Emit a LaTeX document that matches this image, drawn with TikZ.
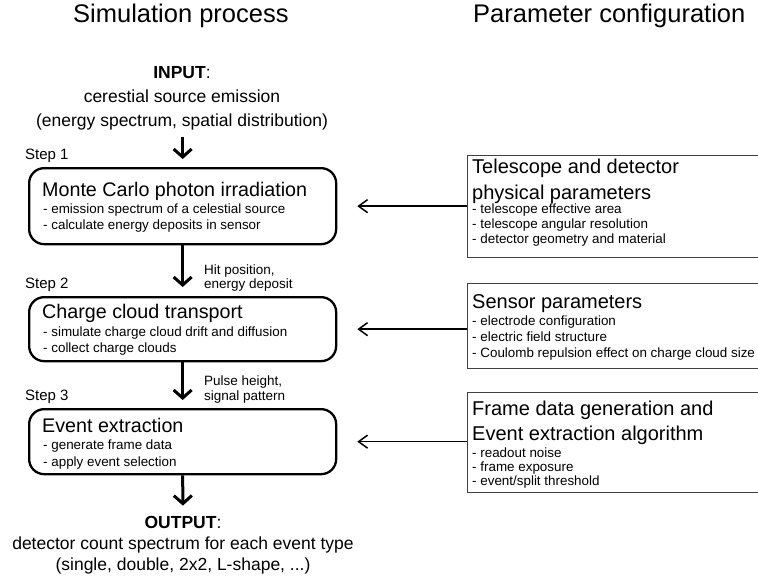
\documentclass[tikz,border=0pt]{standalone}
\usepackage{fontspec}
\setmainfont{Liberation Sans}
\usetikzlibrary{arrows.meta,positioning}

\newcommand{\fsz}[2]{\fontsize{#1}{#2}\selectfont}

\begin{document}
\begin{tikzpicture}[x=1pt, y=-1pt,
  stage/.style = {draw, line width=2.3pt, rounded corners=15pt,
    minimum width=307pt, inner sep=0pt, anchor=north west},
  param/.style = {draw=black!75, line width=1.4pt,
    minimum width=330pt, inner sep=0pt, anchor=north west},
  flow/.style = {line width=3pt, -{Straight Barb[length=8pt, width=18pt]}},
  feed/.style = {line width=1.5pt, -{Straight Barb[length=9pt, width=13pt]}},
  txt/.style = {anchor=base west, inner sep=0pt, align=left},
  head/.style = {txt, font=\fsz{19.7}{24}},
  list/.style = {txt, font=\fsz{13.4}{16}},
  steplabel/.style = {txt, font=\fsz{15}{18}}
  ]
  \useasboundingbox (0,0) rectangle (758,579);
  \clip (0,0) rectangle (758,579);

  % column titles
  \node[txt, font=\fsz{25.5}{28}] (simtitle) at (73,22) {Simulation process};
  \node[txt, font=\fsz{25.5}{28}] (partitle) at (473,22) {Parameter configuration};

  % simulation stages (multi-line nodes sit on their last baseline)
  \node[align=center, anchor=base, inner sep=0pt, font=\fsz{17.5}{24}] (input) at (182,126)
  {\textbf{INPUT}:\\cerestial source emission\\(energy spectrum, spatial distribution)};

  \node[stage, minimum height=76pt] (mc) at (28,167) {};
  \node[stage, minimum height=64pt] (ct) at (28,296) {};
  \node[stage, minimum height=65pt] (ee) at (28,408) {};

  \node[steplabel] (st1) at (25,159) {Step 1};
  \node[steplabel] (st2) at (25,288) {Step 2};
  \node[steplabel] (st3) at (25,400) {Step 3};

  \node[head] (mc-head) at (42,196) {Monte Carlo photon irradiation};
  \node[list] (mc-list) at (43,229) {- emission spectrum of a celestial source\\- calculate energy deposits in sensor};
  \node[head] (ct-head) at (42,318) {Charge cloud transport};
  \node[list] (ct-list) at (43,352) {- simulate charge cloud drift and diffusion\\- collect charge clouds};
  \node[head] (ee-head) at (42,432) {Event extraction};
  \node[list, font=\fsz{13.4}{17}] (ee-list) at (43,466) {- generate frame data\\- apply event selection};

  \node[align=center, anchor=base, inner sep=0pt, font=\fsz{17.5}{21}] (output) at (183,570)
  {\textbf{OUTPUT}:\\detector count spectrum for each event type\\(single, double, 2x2, L-shape, ...)};

  \node[list, font=\fsz{13.5}{14}] (hit) at (204,288) {Hit position,\\energy deposit};
  \node[list, font=\fsz{13.5}{15}] (pulse) at (204,400) {Pulse height,\\signal pattern};

  \draw[flow, shorten <=7pt, shorten >=8pt] (input.south -| mc.north) -- (mc.north);
  \draw[flow, shorten >=9pt] (mc.south) -- (ct.north);
  \draw[flow, shorten >=8pt] (ct.south) -- (ee.north);
  \draw[flow, shorten >=10pt] (ee.south) -- (output.north);

  % parameter boxes
  \node[param, minimum height=102pt] (tel) at (467,155) {};
  \node[param, minimum height=85pt] (sens) at (467,283) {};
  \node[param, minimum height=100pt] (frame) at (467,392) {};

  \node[head, font=\fsz{20}{26}] (tel-head) at (472,199) {Telescope and detector\\physical parameters};
  \node[list, font=\fsz{13.4}{15}] (tel-list) at (472,243) {- telescope effective area\\- telescope angular resolution\\- detector geometry and material};
  \node[head, font=\fsz{20}{25}] (sens-head) at (472,308) {Sensor parameters};
  \node[list, font=\fsz{13.4}{16}] (sens-list) at (472,357) {- electrode configuration\\- electric field structure\\- Coulomb repulsion effect on charge cloud size};
  \node[head, font=\fsz{20}{25}] (frame-head) at (472,440) {Frame data generation and\\Event extraction algorithm};
  \node[list, font=\fsz{13.4}{14}] (frame-list) at (472,485) {- readout noise\\- frame exposure\\- event/split threshold};

  \draw[feed, shorten >=20pt] (tel.west |- mc.east) -- (mc.east);
  \draw[feed, shorten >=20pt] (sens.west |- ct.east) -- (ct.east);
  \draw[feed, shorten >=20pt] (frame.west |- ee.east) -- (ee.east);
\end{tikzpicture}
\end{document}
